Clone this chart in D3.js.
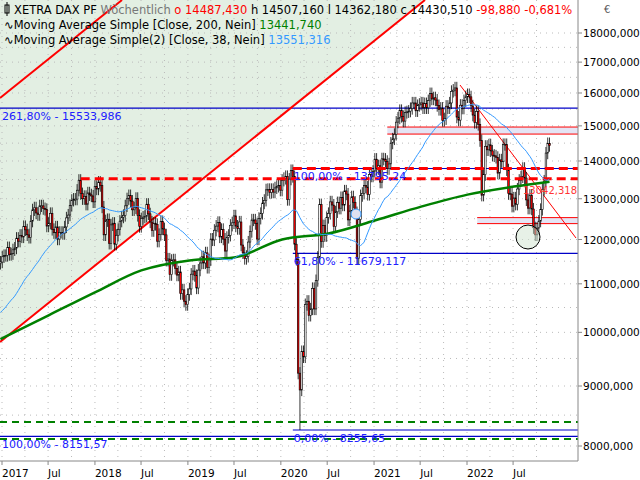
<!DOCTYPE html>
<html>
<head>
<meta charset="utf-8">
<script src="https://cdn.jsdelivr.net/npm/d3@7"></script>
<style>
  body { margin: 0; background: #fff; }
  svg { display: block; font-family: "DejaVu Sans", sans-serif; }
</style>
</head>
<body>
<svg id="chart" width="640" height="480"></svg>
<script>
/* ---------- data ---------- */
// weekly closes, first week 2016-04-04 (warm-up for the 38 week average)
const firstWeek = "2016-04-04";
const closes = [
  9620,10050,10370,10040,9870,9950,9920,10290,10100,9830,9630,9560,9780,9630,10070,10150,10340,10370,10710,10540,
  10590,10680,10570,10280,10630,10510,10490,10580,10710,10700,10260,10670,10660,10700,10510,10990,11400,11450,11480,
  // 2017
  11600,11630,11630,11810,11650,11670,11760,11800,12030,11960,12100,12060,12310,12230,12110,12050,12440,12720,12770,12640,
  12600,12820,12820,12750,12730,12320,12390,12630,12240,12160,12300,12010,12170,12170,12140,12300,12520,12590,12830,12960,
  12990,12990,13220,13480,13130,13000,13060,12860,13150,13100,13070,12920,
  // 2018
  13320,13250,13430,13340,12790,12110,12450,12480,11910,12350,12390,11890,12100,12240,12440,12540,12580,12820,13000,13080,
  12940,12720,12770,13010,12580,12310,12500,12540,12560,12860,12620,12420,12210,12390,12360,11960,12120,12430,12250,12110,
  11520,11550,11200,11520,11530,11340,11190,11260,10790,10870,10630,10560,
  // 2019
  10770,10890,11210,11280,11180,10910,11300,11460,11600,11460,11690,11360,11530,12010,11990,12220,12320,12410,12060,12240,
  12010,11730,12050,12100,12340,12400,12570,12320,12260,12420,11870,11690,11560,11610,11940,12190,12470,12470,12380,12010,
  12510,12630,12890,12960,13230,13240,13160,13240,13170,13280,13320,13340,
  // 2020
  13220,13480,13530,13580,12980,13510,13740,13580,11890,11540,9230,8930,9630,9530,10560,10630,10340,10470,10900,10470,
  11070,11590,12850,11950,12330,12090,12530,12630,12920,12840,12310,12670,12900,12760,13030,12840,13200,13120,12470,12690,
  13050,12910,12650,11560,12480,13080,13140,13340,13300,13110,13630,13590,13720,
  // 2021
  14050,13790,13870,13430,14060,14050,13990,13790,13920,14500,14620,14750,15110,15230,15460,15280,15140,15400,15420,15440,
  15520,15690,15690,15450,15610,15650,15690,15540,15670,15540,15760,15980,15810,15850,15780,15610,15490,15530,15160,15210,
  15590,15540,15690,16050,16090,16160,15260,15170,15620,15530,15760,15880,
  // 2022
  15950,15880,15600,15320,15100,15430,15040,14570,13090,13630,14410,14310,14450,14280,14160,14140,14100,13670,14030,13980,
  14460,14460,13760,13130,13120,12810,13020,12860,13250,13480,13570,13800,13540,12970,12760,13090,12740,12280,12110,12270,
  12440,12730,13240,13460,14220,14487.43,14430.51
];
// known extreme weekly lows
const extremeLows = [{ date: "2020-03-16", low: 8255.65 }];

// 200 week average
const ma200Dates = ["2016-12-26","2017-07-03","2018-01-01","2018-07-02","2019-01-07","2019-07-01","2020-01-06",
  "2020-07-06","2021-01-04","2021-07-05","2022-01-03","2022-07-04","2022-11-21"];
const ma200Values = [9866,10340,10817,11293,11517,11584,12000,12142,12455,12800,13106,13314,13441.74];

// fibonacci / support levels
const fibLevels = [
  { label: "261,80% - 15533,986", value: 15533.986, from: null },
  { label: "100,00% - 13795,24", value: 13795.24, from: "2020-02-17" },
  { label: "61,80% - 11679,117", value: 11679.117, from: "2020-02-17" },
  { label: "0,00% - 8255,65", value: 8255.65, from: "2020-02-17" },
  { label: "100,00% - 8151,57", value: 8151.57, from: null }
];
const redDashed = [{ value: 13523, from: "2017-11-06" }, { value: 13795.24, from: "2020-02-17" }];
const greenDashed = [8385, 8110];
const bands = [{ from: "2021-02-22", hi: 14965, lo: 14760 }, { from: "2022-02-10", hi: 12527, lo: 12380 }];
const yTicks = [8000,9000,10000,11000,12000,13000,14000,15000,16000,17000,18000];

/* ---------- setup ---------- */
const W = 578, H = 461;
const svg = d3.select("#chart");
const x = d3.scaleTime().domain([new Date(2017,0,1), new Date(2022,0,1)]).range([2,467]);
const y = d3.scaleLog().domain([8000,18000]).range([446,33]);

const parse = d3.timeParse("%Y-%m-%d");
const t0 = parse(firstWeek);
const bars = closes.map((c, i) => {
  const date = d3.timeDay.offset(t0, i * 7);
  const open = i ? closes[i-1] : c;
  let high = Math.max(open, c) * 1.012, low = Math.min(open, c) * 0.988;
  return { date, open, close: c, high, low };
});
extremeLows.forEach(e => {
  const b = bars.find(b => +b.date === +parse(e.date));
  if (b) b.low = e.low;
});
bars.forEach((b, i) => {
  if (i >= 37) b.ma38 = d3.mean(closes.slice(i-37, i+1));
});

svg.append("defs").append("clipPath").attr("id","clip")
  .append("rect").attr("width", W).attr("height", H);
const g = svg.append("g").attr("clip-path","url(#clip)");

// shaded channel area (above lower channel line)
const lowLine = [[0,342],[425,0]];
g.append("path").attr("d", `M0,0 L${lowLine[1][0]},0 L0,${lowLine[0][1]} Z`).attr("fill","#e3efe3");

// grid
const quarters = d3.timeMonth.every(3).range(new Date(2017,0,1), new Date(2023,0,1));
g.selectAll(".vg").data(quarters).join("line")
  .attr("x1", d => x(d)).attr("x2", d => x(d)).attr("y1",0).attr("y2",H)
  .attr("stroke","#bbb").attr("stroke-dasharray","1,5");
g.selectAll(".hg").data(d3.range(8000,18001,500)).join("line")
  .attr("x1",0).attr("x2",W).attr("y1", d => y(d)).attr("y2", d => y(d))
  .attr("stroke","#bbb").attr("stroke-dasharray","1,5");

// bands
bands.forEach(b => {
  g.append("rect").attr("x", x(parse(b.from))).attr("y", y(b.hi))
    .attr("width", W).attr("height", y(b.lo) - y(b.hi)).attr("fill","#e4e4f4");
  [b.hi, b.lo].forEach(v => g.append("line").attr("x1", x(parse(b.from))).attr("x2", W)
    .attr("y1", y(v)).attr("y2", y(v)).attr("stroke","#f00").attr("stroke-width",1));
});

// fib lines
fibLevels.forEach(f => {
  const x0 = f.from ? x(parse(f.from)) : 0;
  g.append("line").attr("x1", x0).attr("x2", W).attr("y1", y(f.value)).attr("y2", y(f.value))
    .attr("stroke","#0000c8").attr("stroke-width",1.2);
});
greenDashed.forEach(v => g.append("line").attr("x1",0).attr("x2",W).attr("y1",y(v)).attr("y2",y(v))
  .attr("stroke","#008000").attr("stroke-width",2).attr("stroke-dasharray","7,5"));

// channel lines
g.append("line").attr("x1",0).attr("y1",98).attr("x2",122).attr("y2",0).attr("stroke","#f00").attr("stroke-width",2);
g.append("line").attr("x1",lowLine[0][0]).attr("y1",lowLine[0][1]).attr("x2",lowLine[1][0]).attr("y2",lowLine[1][1])
  .attr("stroke","#f00").attr("stroke-width",2);
// thin down trend line
g.append("line").attr("x1",460).attr("y1",85).attr("x2",576).attr("y2",238).attr("stroke","#f00").attr("stroke-width",1);

// candles
const vis = bars.filter(b => b.date >= new Date(2016,11,26));
const bw = 1.6;
g.selectAll(".wick").data(vis).join("line")
  .attr("x1", d => x(d.date)).attr("x2", d => x(d.date))
  .attr("y1", d => y(d.high)).attr("y2", d => y(d.low)).attr("stroke","#000").attr("stroke-width",0.8);
g.selectAll(".body").data(vis).join("rect")
  .attr("x", d => x(d.date) - bw/2).attr("width", bw)
  .attr("y", d => y(Math.max(d.open,d.close)))
  .attr("height", d => Math.max(1, Math.abs(y(d.open) - y(d.close))))
  .attr("fill", d => d.close < d.open ? "#f00" : "#fff").attr("stroke","#000").attr("stroke-width",0.6);

// red dashed resistance
redDashed.forEach(r => g.append("line").attr("x1", x(parse(r.from))).attr("x2", W)
  .attr("y1", y(r.value)).attr("y2", y(r.value))
  .attr("stroke","#f00").attr("stroke-width",3).attr("stroke-dasharray","9,5"));

// moving averages
const ma200 = ma200Dates.map((d,i) => ({ date: parse(d), v: ma200Values[i] }));
g.append("path").datum(ma200).attr("fill","none").attr("stroke","#008000").attr("stroke-width",2.5)
  .attr("d", d3.line().x(d => x(d.date)).y(d => y(d.v)).curve(d3.curveMonotoneX));
g.append("path").datum(vis.filter(d => d.ma38)).attr("fill","none").attr("stroke","#3399ff").attr("stroke-width",1)
  .attr("d", d3.line().x(d => x(d.date)).y(d => y(d.ma38)));

// markers
g.append("circle").attr("cx",356).attr("cy",214).attr("r",5).attr("fill","#e0e0f0").attr("stroke","#3399ff");
g.append("circle").attr("cx",528).attr("cy",237).attr("r",12).attr("fill","#cfe3cf").attr("fill-opacity",0.5).attr("stroke","#000");

// level labels
fibLevels.forEach(f => {
  g.append("text").attr("x", f.from ? x(parse(f.from)) + 1 : 2).attr("y", y(f.value) + 12)
    .attr("font-size",11).attr("fill","#2020ff").text(f.label);
});
svg.append("text").attr("x",523).attr("y",194).attr("font-size",10).attr("fill","#f33").text("13042,318");

// frame + axes
svg.append("line").attr("x1",W).attr("x2",W).attr("y1",0).attr("y2",H).attr("stroke","#888");
svg.append("line").attr("x1",0).attr("x2",W).attr("y1",H).attr("y2",H).attr("stroke","#888");
const yAx = svg.append("g");
yTicks.forEach(v => {
  yAx.append("line").attr("x1",W).attr("x2",W+4).attr("y1",y(v)).attr("y2",y(v)).attr("stroke","#888");
  yAx.append("text").attr("x",W+5).attr("y",y(v)+4).attr("font-size",10.5).attr("fill","#000").text(v + ",000");
});
svg.append("text").attr("x",604).attr("y",13).attr("font-size",10).attr("fill","#555").text("€");
const xTicks = d3.timeMonth.every(6).range(new Date(2017,0,1), new Date(2022,11,1));
xTicks.forEach(d => {
  svg.append("line").attr("x1",x(d)).attr("x2",x(d)).attr("y1",H).attr("y2",H+4).attr("stroke","#888");
  svg.append("text").attr("x",x(d)).attr("y",477).attr("font-size",10.5)
    .text(d.getMonth() === 0 ? d.getFullYear() : "Jul");
});

// header legend
const hdr = svg.append("g").attr("font-size",11.5);
hdr.append("rect").attr("x",5).attr("y",5).attr("width",4).attr("height",8).attr("fill","none").attr("stroke","#000");
hdr.append("line").attr("x1",7).attr("x2",7).attr("y1",2).attr("y2",16).attr("stroke","#000");
const l1 = hdr.append("text").attr("x",14).attr("y",14);
l1.append("tspan").text("XETRA DAX PF  ");
l1.append("tspan").attr("fill","#777").text("Wöchentlich  ");
l1.append("tspan").attr("fill","#f00").text("o 14487,430  ");
l1.append("tspan").text("h 14507,160  l 14362,180  c 14430,510  ");
l1.append("tspan").attr("fill","#f00").text("-98,880  -0,681%");
const l2 = hdr.append("text").attr("x",4).attr("y",29);
l2.append("tspan").text("∿Moving Average Simple  [Close, 200, Nein]  ");
l2.append("tspan").attr("fill","#008000").text("13441,740");
const l3 = hdr.append("text").attr("x",4).attr("y",44);
l3.append("tspan").text("∿Moving Average Simple(2)  [Close, 38, Nein]  ");
l3.append("tspan").attr("fill","#3399ff").text("13551,316");
</script>
</body>
</html>
